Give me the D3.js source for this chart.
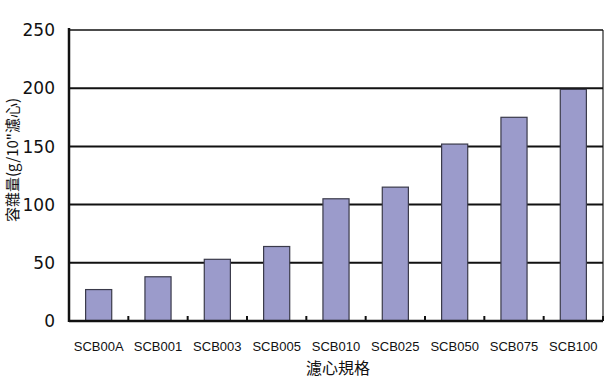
<!DOCTYPE html>
<html><head><meta charset="utf-8">
<script src="https://cdn.jsdelivr.net/npm/d3@7"></script>
<style>body{margin:0;background:#fff}svg{display:block}</style>
</head><body><svg id="c" width="607" height="381"></svg>
<script>
const categories = ["SCB00A","SCB001","SCB003","SCB005","SCB010","SCB025","SCB050","SCB075","SCB100"];
const values = [27, 38, 53, 64, 105, 115, 152, 175, 199];
const yTicks = [0, 50, 100, 150, 200, 250];
const yTitle = "容雜量(g/10\"濾心)";
const xTitle = "濾心規格";

const svg = d3.select("#c");
const L = 69, R = 603, T = 30, B = 321;
const x = d3.scaleBand().domain(categories).range([L, R]).paddingInner(0.56).paddingOuter(0.28);
const xb = d3.scaleBand().domain(categories).range([L, R]);
const y = d3.scaleLinear().domain([0, 250]).range([B, T]);

svg.append("line").attr("x1", R).attr("x2", R).attr("y1", y(250)).attr("y2", B).attr("stroke", "#222").attr("stroke-width", 1.2);
svg.append("g").selectAll("line").data(yTicks.filter(d => d > 0)).join("line")
  .attr("x1", L).attr("x2", R).attr("y1", d => y(d)).attr("y2", d => y(d))
  .attr("stroke", "#111").attr("stroke-width", d => d === 250 ? 1.5 : 2);

svg.append("g").selectAll("rect").data(values).join("rect")
  .attr("x", (d, i) => x(categories[i]))
  .attr("y", d => y(d))
  .attr("width", x.bandwidth())
  .attr("height", d => y(0) - y(d))
  .attr("fill", "#9b9bcb").attr("stroke", "#3a3a4a").attr("stroke-width", 1.2);

const xa = svg.append("g").attr("transform", `translate(0,${B})`);
xa.append("line").attr("x1", L).attr("x2", R).attr("stroke", "#111").attr("stroke-width", 2.5);
xa.selectAll("line.tk").data(categories).join("line").attr("class", "tk")
  .attr("x1", (d, i) => L + xb.step() * (i + 1)).attr("x2", (d, i) => L + xb.step() * (i + 1))
  .attr("y1", 0).attr("y2", -5).attr("stroke", "#111").attr("stroke-width", 2);
xa.selectAll("text").data(categories).join("text")
  .attr("x", d => xb(d) + xb.bandwidth() / 2).attr("y", 30)
  .attr("text-anchor", "middle")
  .style("font-family", "Liberation Sans, Arial, sans-serif").style("font-size", "13px").style("fill", "#111")
  .text(d => d);

const ya = svg.append("g").attr("transform", `translate(${L},0)`);
ya.append("line").attr("y1", y(250) - 2).attr("y2", B + 1).attr("stroke", "#111").attr("stroke-width", 2.5);
ya.selectAll("text").data(yTicks).join("text")
  .attr("x", -14).attr("y", d => y(d)).attr("dy", "0.36em")
  .attr("text-anchor", "end")
  .style("font-family", "DejaVu Sans, sans-serif").style("font-size", "17px").style("fill", "#111")
  .text(d => d);

svg.append("text").attr("transform", "translate(13,160) rotate(-90)")
  .attr("text-anchor", "middle").attr("dy", "0.36em")
  .style("font-family", "Noto Sans CJK TC, sans-serif").style("font-size", "15px").style("fill", "#111")
  .text(yTitle);
svg.append("text").attr("x", 338).attr("y", 368).attr("dy", "0.36em")
  .attr("text-anchor", "middle")
  .style("font-family", "Noto Sans CJK TC, sans-serif").style("font-size", "16px").style("fill", "#111")
  .text(xTitle);
</script></body></html>
